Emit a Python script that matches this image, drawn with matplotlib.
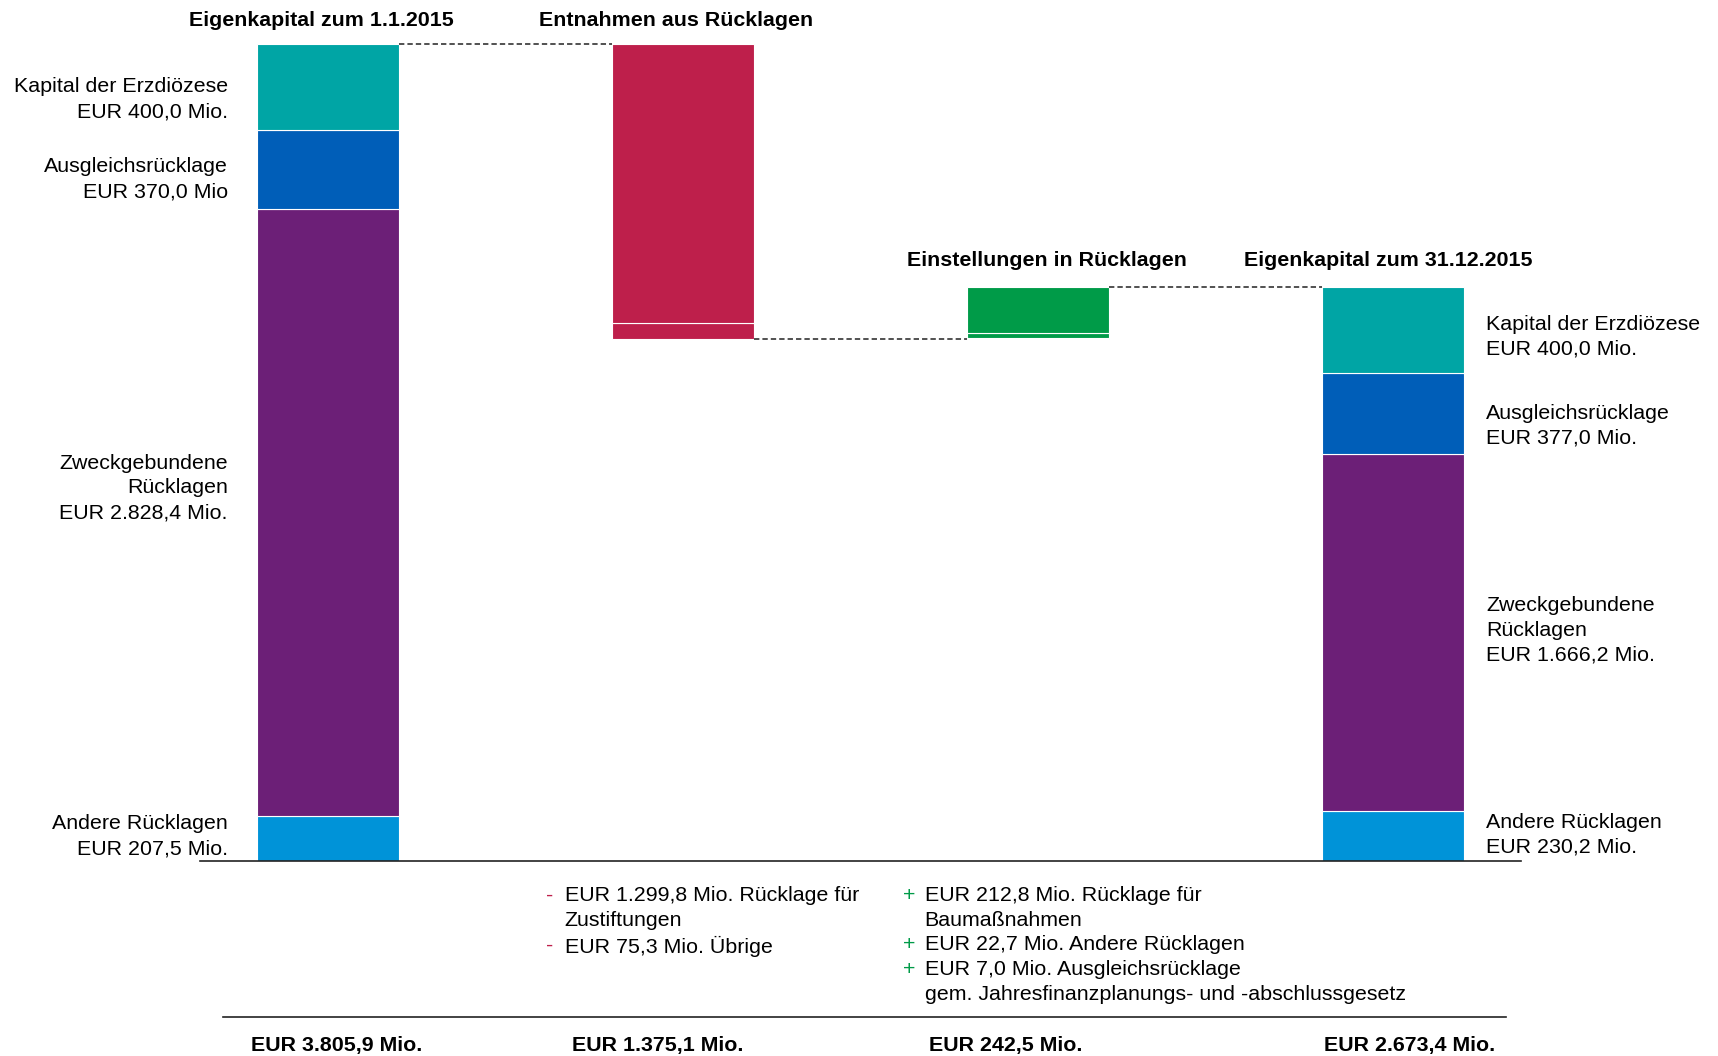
import matplotlib.pyplot as plt
import numpy as np

plt.rcParams['font.family'] = ['Liberation Sans', 'DejaVu Sans']

# segment values (bottom -> top)
seg_names = ["Andere Rücklagen", "Zweckgebundene\nRücklagen", "Ausgleichsrücklage",
             "Kapital der Erzdiözese"]
start_vals = [207.5, 2828.4, 370.0, 400.0]
end_vals = [230.2, 1666.2, 377.0, 400.0]
start_lbls = ["EUR 207,5 Mio.", "EUR 2.828,4 Mio.", "EUR 370,0 Mio", "EUR 400,0 Mio."]
end_lbls = ["EUR 230,2 Mio.", "EUR 1.666,2 Mio.", "EUR 377,0 Mio.", "EUR 400,0 Mio."]
seg_colors = ["#0093D8", "#6C1F77", "#005EB8", "#00A5A5"]

withdrawals = [75.3, 1299.8]          # bottom -> top
additions = [7.0, 22.7, 212.8]        # bottom -> top

titles = ["Eigenkapital zum 1.1.2015", "Entnahmen aus Rücklagen",
          "Einstellungen in Rücklagen", "Eigenkapital zum 31.12.2015"]
totals = ["EUR 3.805,9 Mio.", "EUR 1.375,1 Mio.", "EUR 242,5 Mio.", "EUR 2.673,4 Mio."]

minus_lines = ["EUR 1.299,8 Mio. Rücklage für", "Zustiftungen", "EUR 75,3 Mio. Übrige"]
minus_marks = ["-", "", "-"]
plus_lines = ["EUR 212,8 Mio. Rücklage für", "Baumaßnahmen", "EUR 22,7 Mio. Andere Rücklagen",
              "EUR 7,0 Mio. Ausgleichsrücklage", "gem. Jahresfinanzplanungs- und -abschlussgesetz"]
plus_marks = ["+", "", "+", "+", ""]

RED = "#BE1F4B"
GREEN = "#009B48"
FS = 15.4
LS = 1.38
W = 0.4

fig = plt.figure(figsize=(17.18, 10.56), dpi=100)
ax = fig.add_axes([0, 0, 1, 1])
ax.set_xlim(-0.925, 3.915)
ax.set_ylim(-909, 4010)
ax.axis('off')

# layout helpers (reference pixel grid)
def px(x):
    return (x - 300) / 324.4

def py(y):
    return (785 - y) / 0.19575

def ty(y):
    # text sits ~2px lower than the raw grid
    return py(y + 2)

start_total = sum(start_vals)
end_total = sum(end_vals)
after_out = start_total - sum(withdrawals)

# stacked start / end bars
bottom = 0
for v, c in zip(start_vals, seg_colors):
    ax.bar(0, v, W, bottom=bottom, color=c, edgecolor='white', linewidth=0.8)
    bottom += v
bottom = 0
for v, c in zip(end_vals, seg_colors):
    ax.bar(3, v, W, bottom=bottom, color=c, edgecolor='white', linewidth=0.8)
    bottom += v

# withdrawals bar
bottom = after_out
for v in withdrawals:
    ax.bar(1, v, W, bottom=bottom, color=RED, edgecolor='white', linewidth=0.8)
    bottom += v

# additions bar
bottom = after_out
for v in additions:
    ax.bar(2, v, W, bottom=bottom, color=GREEN, edgecolor='white', linewidth=0.8)
    bottom += v

# connectors
dash = dict(color='#222222', linestyle=(0, (3.5, 2)), linewidth=1.1)
ax.plot([W / 2, 1 - W / 2], [start_total, start_total], **dash)
ax.plot([1 + W / 2, 2 - W / 2], [after_out, after_out], **dash)
ax.plot([2 + W / 2, 3 - W / 2], [end_total, end_total], **dash)

# baselines
ax.plot([px(183), px(1390)], [0, 0], color='#222222', linewidth=1.2)
ax.plot([px(204), px(1376)], [py(927), py(927)], color='#222222', linewidth=1.2)

# titles
ax.text(px(294), ty(17), titles[0], ha='center', va='center', fontsize=FS, fontweight='bold')
ax.text(px(618), ty(17), titles[1], ha='center', va='center', fontsize=FS, fontweight='bold')
ax.text(px(957), ty(236), titles[2], ha='center', va='center', fontsize=FS, fontweight='bold')
ax.text(px(1269), ty(236), titles[3], ha='center', va='center', fontsize=FS, fontweight='bold')

# segment labels
left_y = [760.5, 443, 161.5, 88.5]
right_y = [759, 573, 386.5, 305]
for name, lbl, y in zip(seg_names, start_lbls, left_y):
    ax.text(px(208), ty(y), f"{name}\n{lbl}", ha='right', va='center',
            fontsize=FS, linespacing=LS)
for name, lbl, y in zip(seg_names, end_lbls, right_y):
    ax.text(px(1358), ty(y), f"{name}\n{lbl}", ha='left', va='center',
            fontsize=FS, linespacing=LS)

# notes below the axis
note_top = ty(806)
ax.text(px(499), note_top, "\n".join(minus_marks), ha='left', va='top',
        fontsize=FS, color=RED, linespacing=LS)
ax.text(px(516), note_top, "\n".join(minus_lines), ha='left', va='top',
        fontsize=FS, linespacing=LS)
ax.text(px(825), note_top, "\n".join(plus_marks), ha='left', va='top',
        fontsize=FS, color=GREEN, linespacing=LS)
ax.text(px(845), note_top, "\n".join(plus_lines), ha='left', va='top',
        fontsize=FS, linespacing=LS)

# totals
for x, t in zip([308, 601, 919, 1288], totals):
    ax.text(px(x), ty(951), t, ha='center', va='center', fontsize=FS, fontweight='bold')

fig.savefig("out.png", dpi=100)
